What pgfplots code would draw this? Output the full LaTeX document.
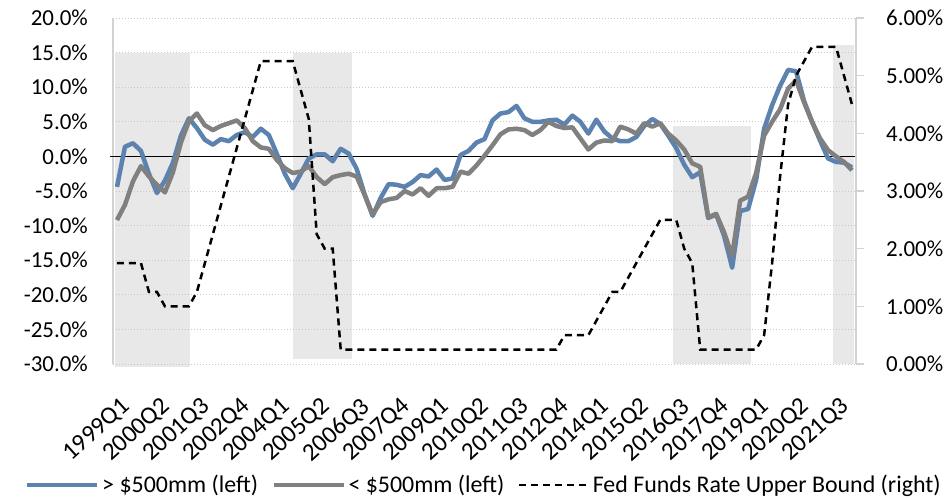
\documentclass[border=0pt]{standalone}
\usepackage{pgfplots}
\pgfplotsset{compat=1.18}
\usepackage{pgfplotstable}
\usepackage{fontspec}
\setmainfont{Carlito}
\definecolor{cblue}{RGB}{92,130,176}
\definecolor{cgray}{RGB}{128,128,128}
\definecolor{cshade}{RGB}{232,232,232}
\definecolor{cgrid}{RGB}{200,200,200}
\definecolor{caxis}{RGB}{210,210,210}

\pgfplotstableread{
i blue gray fed
0 -4.4 -9.2 1.75
1 1.4 -7.0 1.75
2 1.9 -3.6 1.75
3 0.8 -1.4 1.75
4 -2.5 -2.9 1.25
5 -5.3 -4.1 1.25
6 -3.5 -5.2 1.0
7 -0.9 -2.3 1.0
8 3.0 2.0 1.0
9 5.5 5.1 1.0
10 4.1 6.2 1.25
11 2.4 4.5 1.75
12 1.7 3.8 2.25
13 2.5 4.4 2.75
14 2.2 4.8 3.25
15 3.1 5.2 3.75
16 3.5 4.1 4.25
17 2.8 2.2 4.75
18 4.0 1.3 5.25
19 3.1 1.1 5.25
20 0.4 -0.5 5.25
21 -2.5 -1.7 5.25
22 -4.6 -2.4 5.25
23 -2.5 -2.2 4.75
24 -0.3 -1.4 4.25
25 0.3 -3.0 2.25
26 0.3 -4.0 2.0
27 -0.7 -3.0 2.0
28 1.1 -2.7 0.25
29 0.4 -2.5 0.25
30 -1.8 -2.9 0.25
31 -5.5 -5.6 0.25
32 -8.6 -8.4 0.25
33 -6.0 -6.6 0.25
34 -4.0 -6.2 0.25
35 -4.1 -6.0 0.25
36 -4.4 -5.0 0.25
37 -3.7 -5.5 0.25
38 -2.7 -4.6 0.25
39 -2.9 -5.7 0.25
40 -1.9 -4.6 0.25
41 -3.4 -4.6 0.25
42 -3.2 -4.4 0.25
43 0.2 -2.2 0.25
44 0.8 -2.5 0.25
45 2.0 -1.3 0.25
46 2.5 0.1 0.25
47 5.2 1.6 0.25
48 6.2 3.2 0.25
49 6.4 3.9 0.25
50 7.3 4.0 0.25
51 5.5 3.8 0.25
52 5.0 3.1 0.25
53 5.0 3.8 0.25
54 5.2 5.0 0.25
55 5.3 4.4 0.25
56 4.6 4.1 0.5
57 5.9 4.2 0.5
58 5.0 2.6 0.5
59 3.3 1.0 0.5
60 5.3 2.0 0.75
61 3.6 2.3 1.0
62 2.6 2.2 1.25
63 2.2 4.3 1.25
64 2.2 3.9 1.5
65 2.8 3.3 1.75
66 4.4 4.8 2.0
67 5.4 4.3 2.25
68 4.7 4.8 2.5
69 3.0 3.3 2.5
70 1.2 2.3 2.5
71 -1.2 1.0 2.0
72 -3.0 -1.0 1.75
73 -2.3 -1.5 0.25
74 -8.9 -8.8 0.25
75 -8.4 -8.3 0.25
76 -11.5 -11.0 0.25
77 -16.1 -14.4 0.25
78 -7.9 -6.4 0.25
79 -7.6 -5.8 0.25
80 -3.4 -2.4 0.25
81 4.0 3.0 0.5
82 7.4 5.0 1.75
83 10.2 6.8 3.25
84 12.5 9.8 4.5
85 12.3 11.0 5.0
86 8.0 7.8 5.25
87 5.0 5.0 5.5
88 2.3 2.6 5.5
89 -0.3 0.9 5.5
90 -0.8 0.0 5.5
91 -0.9 -0.8 5.0
92 -1.6 -2.0 4.5
}\data

\begin{document}
\begin{tikzpicture}
\pgfplotsset{
  base/.style={scale only axis, width=743bp, height=346bp,
    xmin=-0.5, xmax=92.5, at={(0,0)}, anchor=south west,
    /pgf/number format/assume math mode=true,
    tick label style={font=\fontsize{23}{27}\selectfont}},
}
% shading
\begin{axis}[base, ymin=-30, ymax=20, hide axis, clip=false]
\addplot[fill=cshade, draw=none] coordinates {(-0.21,-30.4) (9.1,-30.4) (9.1,15) (-0.21,15)};
\addplot[fill=cshade, draw=none] coordinates {(22.03,-29.3) (29.37,-29.3) (29.37,15) (22.03,15)};
\addplot[fill=cshade, draw=none] coordinates {(69.6,-30) (79.4,-30) (79.4,4.4) (69.6,4.4)};
\addplot[fill=cshade, draw=none] coordinates {(89.6,-30) (92.28,-30) (92.28,16.1) (89.6,16.1)};
\end{axis}
% left axis
\begin{axis}[base, ymin=-30, ymax=20, clip=false,
  axis x line*=bottom, axis y line*=left,
  x axis line style={draw=none},
  y axis line style={draw=caxis, line width=1.2bp},
  ytick={-30,-25,...,20},
  yticklabel={\pgfmathprintnumber[fixed,fixed zerofill,precision=1]{\tick}\%},
  yticklabel style={inner sep=0pt, xshift=-25bp},
  ymajorgrids, grid style={cgrid, line width=1bp, dash pattern=on 1bp off 2bp},
  major tick length=0pt,
  xtick={0,5,...,90},
  xticklabels={1999Q1,2000Q2,2001Q3,2002Q4,2004Q1,2005Q2,2006Q3,2007Q4,2009Q1,2010Q2,2011Q3,2012Q4,2014Q1,2015Q2,2016Q3,2017Q4,2019Q1,2020Q2,2021Q3},
  xticklabel style={xshift=3bp, yshift=-32bp, rotate=42, anchor=north east, inner sep=0pt, font=\fontsize{25}{29}\selectfont},
]
\addplot[black, line width=1.2bp, forget plot] coordinates {(-0.9,0) (92.5,0)};
\addplot[cblue, line width=4.5bp, line join=round] table[x=i, y=blue] {\data};
\addplot[cgray, line width=4.5bp, line join=round] table[x=i, y=gray] {\data};
\end{axis}
% right axis
\begin{axis}[base, ymin=0, ymax=6,
  axis y line*=right, hide x axis,
  ytick={0,1,...,6},
  yticklabel={\pgfmathprintnumber[fixed,fixed zerofill,precision=2]{\tick}\%},
  y axis line style={draw=caxis, line width=1.2bp},
  ytick style={draw=caxis, line width=1.2bp},
  tick align=outside, major tick length=8bp,
  yticklabel style={inner sep=0pt, xshift=22bp},
  legend columns=-1,
  legend style={draw=none, fill=none, inner sep=0pt, at={(-0.1184,-0.3497)}, anchor=west,
    font=\fontsize{24}{28}\selectfont,
    nodes={inner sep=2.5bp},
    /tikz/every even column/.append style={column sep=11bp}},
  legend image code/.code={\draw[#1] (0bp,0bp) -- (70bp,0bp);},
]
\addlegendimage{cblue, line width=4.5bp}
\addlegendentry{> \$500mm (left)}
\addlegendimage{cgray, line width=4.5bp}
\addlegendentry{< \$500mm (left)}
\addplot[black, line width=2.5bp, dash pattern=on 7bp off 5bp] table[x=i, y=fed] {\data};
\addlegendentry{Fed Funds Rate Upper Bound (right)}
\end{axis}
\pgfresetboundingbox
\path[use as bounding box] (-113bp,-135bp) rectangle (836bp,364bp);
\end{tikzpicture}
\end{document}
